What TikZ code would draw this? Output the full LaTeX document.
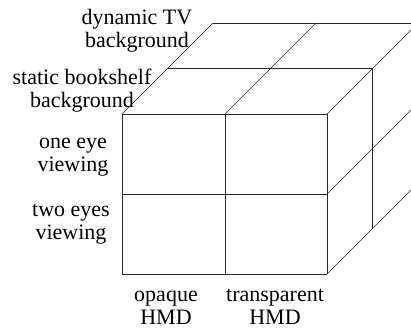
\documentclass[tikz,border=0pt]{standalone}
\usepackage{fontspec}
\newfontfamily\labelfont{Liberation Serif}
\usepackage{tikz}
\tikzset{
    axislabel/.style={
           align=center,
           inner sep=0pt,
           font=\labelfont\fontsize{22}{23}\selectfont,
           },
    gridline/.style={
           draw=black!85,
           line width=0.6pt,
           },
}

\begin{document}
\begin{tikzpicture}[x=1pt, y=-1pt]

 % picture area, the cube runs over the right edge
 \useasboundingbox (0,0) rectangle (411,329);
 \clip (0,0) rectangle (411,329);

 % front face (2x2)
 \foreach \x in {122,225,327}
   \draw[gridline] (\x,114) -- (\x,274);
 \foreach \y in {114,194,274}
   \draw[gridline] (122,\y) -- (327,\y);

 % top face: depth lines and the two back rows
 \foreach \x in {122,225,327}
   \draw[gridline] (\x,114) -- ++(91,-91);
 \foreach \d in {45.5,91}
   \draw[gridline] (122+\d,114-\d) -- ++(205,0);

 % right face: depth lines and the two back columns
 \foreach \y in {194,274}
   \draw[gridline] (327,\y) -- ++(91,-91);
 \foreach \d in {45.5,91}
   \draw[gridline] (327+\d,114-\d) -- ++(0,160);

 % depth axis
 \node[axislabel] (tv) at (137,31) {dynamic TV\\background};
 \node[axislabel] (shelf) at (82,91) {static bookshelf\\background};

 % rows
 \node[axislabel] (oneeye) at (73,157) {one eye\\viewing};
 \node[axislabel] (twoeyes) at (71,224) {two eyes\\viewing};

 % columns
 \node[axislabel] (opaque) at (166,308) {opaque\\HMD};
 \node[axislabel] (transp) at (275,307) {transparent\\HMD};
\end{tikzpicture}
\end{document}
